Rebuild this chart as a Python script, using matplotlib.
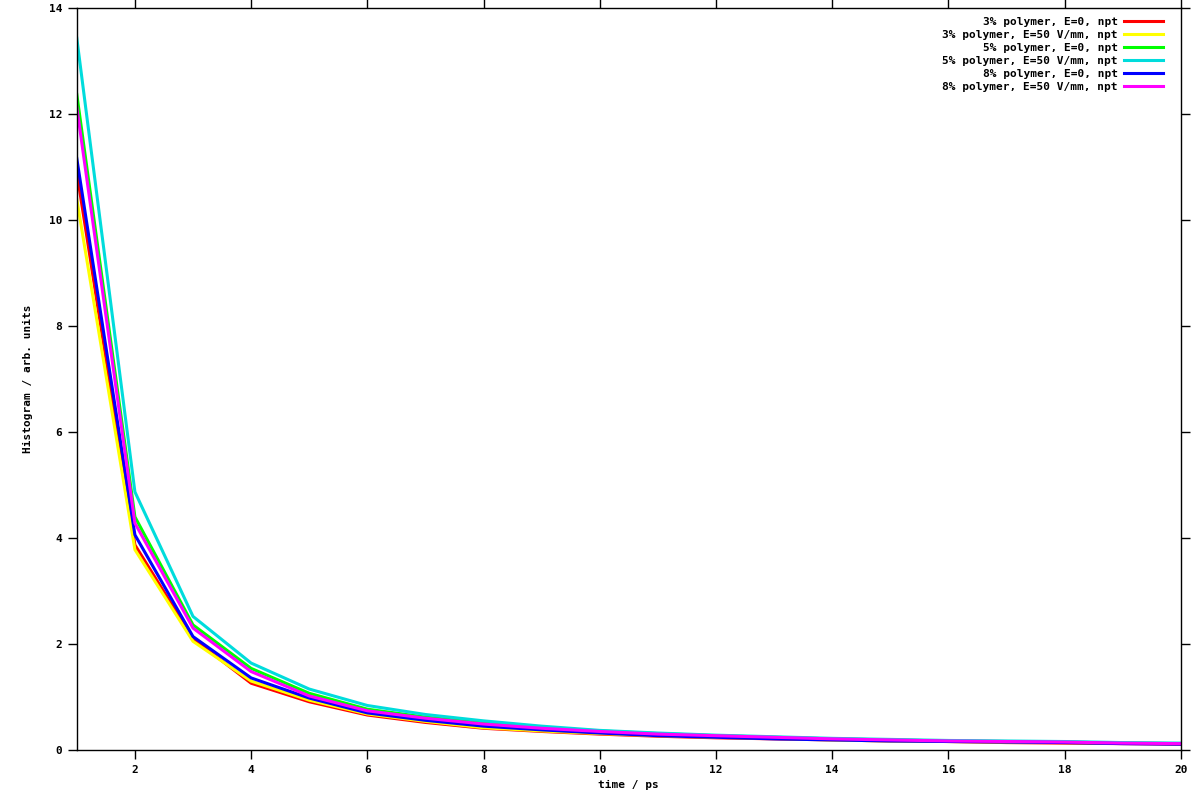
import matplotlib
matplotlib.use("Agg")
import matplotlib.pyplot as plt

# time axis (ps)
t = list(range(1, 21))

# histogram values
p3_e0 = [10.90, 3.87, 2.10, 1.26, 0.91, 0.66, 0.52, 0.41, 0.35, 0.30,
         0.26, 0.23, 0.21, 0.19, 0.17, 0.16, 0.14, 0.13, 0.12, 0.11]
p3_e50 = [10.39, 3.78, 2.05, 1.30, 0.94, 0.68, 0.54, 0.42, 0.36, 0.31,
          0.27, 0.24, 0.22, 0.19, 0.17, 0.16, 0.15, 0.14, 0.13, 0.12]
p5_e0 = [12.37, 4.40, 2.36, 1.54, 1.07, 0.77, 0.62, 0.51, 0.42, 0.36,
         0.31, 0.27, 0.24, 0.21, 0.19, 0.17, 0.16, 0.15, 0.13, 0.12]
p5_e50 = [13.43, 4.87, 2.52, 1.64, 1.15, 0.84, 0.67, 0.55, 0.45, 0.37,
          0.32, 0.28, 0.25, 0.22, 0.20, 0.18, 0.17, 0.16, 0.14, 0.13]
p8_e0 = [11.16, 4.06, 2.14, 1.36, 0.98, 0.70, 0.56, 0.45, 0.38, 0.32,
         0.27, 0.24, 0.21, 0.19, 0.17, 0.16, 0.15, 0.14, 0.12, 0.11]
p8_e50 = [12.13, 4.28, 2.30, 1.48, 1.02, 0.74, 0.60, 0.49, 0.41, 0.35,
          0.30, 0.27, 0.24, 0.21, 0.19, 0.17, 0.16, 0.15, 0.13, 0.12]

labels = ["3% polymer, E=0, npt", "3% polymer, E=50 V/mm, npt",
          "5% polymer, E=0, npt", "5% polymer, E=50 V/mm, npt",
          "8% polymer, E=0, npt", "8% polymer, E=50 V/mm, npt"]
colors = ["#ff0000", "#ffff00", "#00ff00", "#00dcdc", "#0000ff", "#ff00ff"]
series = [p3_e0, p3_e50, p5_e0, p5_e50, p8_e0, p8_e50]

plt.rcParams['font.family'] = ['DejaVu Sans Mono']
plt.rcParams['font.weight'] = 'bold'

fig = plt.figure(figsize=(12, 8), dpi=100)
ax = fig.add_axes([0.064, 0.0625, 0.92, 0.9275])

for y, c, lab in zip(series, colors, labels):
    ax.plot(t, y, color=c, linewidth=2.2, label=lab)

ax.set_xlim(1, 20)
ax.set_ylim(0, 14)
ax.set_xticks(range(2, 21, 2))
ax.set_yticks(range(0, 15, 2))
ax.tick_params(direction='out', length=6.5, width=1, labelsize=8,
               top=True, right=True, pad=4)
for s in ax.spines.values():
    s.set_linewidth(1)

ax.set_xlabel("time / ps", fontsize=8, fontweight='bold', labelpad=4)
ax.set_ylabel("Histogram / arb. units", fontsize=8, fontweight='bold', labelpad=11)

leg = ax.legend(loc='upper right', bbox_to_anchor=(0.9875, 0.994), frameon=False,
                markerfirst=False, fontsize=8, handlelength=3.5,
                handletextpad=0.55, labelspacing=0.27, borderaxespad=0)
for txt in leg.get_texts():
    txt.set_fontweight('bold')

fig.savefig("out.png", dpi=100)
